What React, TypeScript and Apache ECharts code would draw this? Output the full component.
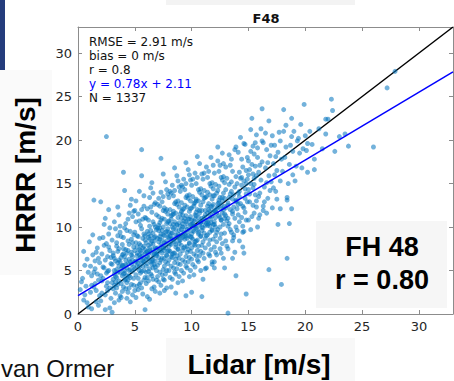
import { useEffect, useRef } from "react";
import * as echarts from "echarts";

const axisMin = 0;
const axisMax = 33;
const tickStep = 5;

const titleText = "F48";
const xAxisTitle = "Lidar [m/s]";
const yAxisTitle = "HRRR [m/s]";
const statsLines = ["RMSE = 2.91 m/s", "bias = 0 m/s", "r = 0.8", "y = 0.78x + 2.11", "N = 1337"];
const statsColors = ["#111111", "#111111", "#111111", "#0000ff", "#111111"];
const boxLines = ["FH 48", "r = 0.80"];
const footerText = "van Ormer";

const identityLine = [[0, 0], [33, 33]];
const fitLine = [[0, 2.11], [33, 27.85]];

// Lidar (x) vs HRRR (y) wind speeds
const pointsLow: number[][] = [
  [0.2,2.8],[0.4,4.1],[0.5,1.6],[0.6,5.6],[0.7,3.2],[0.8,6.3],[0.9,0.8],[0.3,3.7],[0.6,2.2],[0.9,4.8],[0.5,7.2],[0.8,1.3],
  [1.1,2.5],[1.2,4.4],[1.3,6.8],[1.4,3.1],[1.5,5.2],[1.6,1.4],[1.7,7.6],[1.8,3.9],[1.9,5.9],[1.0,8.3],[1.2,0.6],[1.4,4.8],[1.6,2.7],[1.8,6.4],[1.3,9.1],[1.5,3.5],[1.7,4.6],[1.9,2.1],[1.1,5.5],[1.4,13.1],[1.6,7.1],[1.8,1.0],[1.2,3.3],[1.5,6.1],[1.9,8.7],
  [2.0,12.9],[2.5,20.4],[2.7,12.0],[2.1,3.8],[2.2,5.4],[2.3,7.9],[2.4,2.2],[2.5,4.7],[2.6,6.6],[2.7,9.2],[2.8,3.0],[2.9,5.8],[2.0,1.5],[2.1,6.9],[2.2,4.1],[2.3,10.3],[2.4,0.5],[2.5,8.1],[2.6,3.6],[2.7,5.0],[2.8,7.3],[2.9,1.8],[2.0,4.4],[2.2,8.8],[2.4,6.2],[2.6,2.7],[2.8,9.9],[2.3,5.3],[2.5,3.2],[2.7,7.7],[2.9,6.5],[2.1,2.4],[2.6,4.9],[2.8,0.7],[2.4,11.0],
  [3.0,0.2],[3.1,2.9],[3.2,4.6],[3.3,6.1],[3.4,7.8],[3.5,3.4],[3.6,5.5],[3.7,9.4],[3.8,1.9],[3.9,6.8],[3.0,8.5],[3.1,4.0],[3.2,10.6],[3.3,2.4],[3.4,5.1],[3.5,7.2],[3.6,3.8],[3.7,6.0],[3.8,8.9],[3.9,4.4],[3.0,5.7],[3.1,7.0],[3.2,1.3],[3.3,9.8],[3.4,3.0],[3.5,5.9],[3.6,11.4],[3.7,4.8],[3.8,6.5],[3.9,2.6],[3.0,3.6],[3.2,6.4],[3.4,8.2],[3.6,7.5],[3.8,5.2],[3.3,4.3],[3.5,9.0],[3.7,2.1],[3.9,8.0],[3.1,6.7],[3.5,12.3],[3.7,10.1],[3.2,3.3],[3.6,1.6],[3.9,5.6],
];

const pointsMid: number[][] = [
  [4.0,16.3],[4.0,3.1],[4.1,5.0],[4.2,7.4],[4.3,9.6],[4.4,2.5],[4.5,6.3],[4.6,4.2],[4.7,8.6],[4.8,11.2],[4.9,5.4],[4.0,6.9],[4.1,3.9],[4.2,10.4],[4.3,1.8],[4.4,5.8],[4.5,8.0],[4.6,12.5],[4.7,3.4],[4.8,6.6],[4.9,9.1],[4.0,8.8],[4.1,4.7],[4.2,2.9],[4.3,7.0],[4.4,10.9],[4.5,4.4],[4.6,6.0],[4.7,13.2],[4.8,2.2],[4.9,7.7],[4.1,9.9],[4.3,5.3],[4.5,3.0],[4.7,5.7],[4.9,11.8],[4.2,6.2],[4.4,8.4],[4.6,1.4],[4.8,4.9],[4.0,5.6],[4.2,4.0],[4.4,7.3],[4.6,9.5],[4.8,8.2],[4.3,3.6],[4.5,11.6],[4.7,7.1],[4.9,3.3],[4.1,14.2],
  [5.6,18.9],[5.6,15.9],[5.9,0.5],[5.0,2.7],[5.1,4.5],[5.2,6.7],[5.3,8.9],[5.4,10.7],[5.5,3.6],[5.6,5.9],[5.7,7.6],[5.8,12.4],[5.9,4.2],[5.0,9.4],[5.1,6.1],[5.2,3.2],[5.3,11.5],[5.4,5.0],[5.5,7.9],[5.6,9.8],[5.7,2.3],[5.8,6.4],[5.9,8.5],[5.0,5.2],[5.1,13.0],[5.2,7.7],[5.3,4.1],[5.4,6.8],[5.5,10.2],[5.6,3.0],[5.7,5.5],[5.8,9.2],[5.9,11.1],[5.0,7.3],[5.1,1.9],[5.2,9.0],[5.3,6.2],[5.4,8.1],[5.5,4.7],[5.6,12.0],[5.7,8.7],[5.8,3.9],[5.9,6.9],[5.1,10.6],[5.3,2.8],[5.5,6.5],[5.7,10.9],[5.9,7.4],[5.2,5.6],[5.4,14.1],[5.6,7.0],[5.8,5.0],[5.0,11.9],[5.4,3.4],[5.8,13.6],
  [6.0,3.5],[6.1,5.8],[6.2,7.9],[6.3,10.1],[6.4,12.3],[6.5,4.4],[6.6,6.6],[6.7,8.8],[6.8,2.6],[6.9,9.7],[6.0,11.0],[6.1,7.2],[6.2,4.9],[6.3,13.4],[6.4,6.0],[6.5,8.4],[6.6,10.6],[6.7,3.1],[6.8,5.4],[6.9,7.5],[6.0,8.2],[6.1,2.0],[6.2,10.8],[6.3,5.2],[6.4,9.0],[6.5,11.7],[6.6,4.0],[6.7,6.9],[6.8,12.8],[6.9,5.0],[6.0,6.3],[6.1,9.5],[6.2,3.8],[6.3,7.6],[6.4,14.5],[6.5,6.1],[6.6,8.0],[6.7,10.3],[6.8,7.0],[6.9,3.9],[6.1,12.1],[6.3,8.6],[6.5,2.9],[6.7,5.7],[6.9,11.4],[6.2,6.4],[6.4,4.6],[6.6,9.3],[6.8,8.9],[6.0,4.8],[6.5,15.1],[6.7,12.6],[6.2,9.2],[6.4,7.1],[6.6,5.3],[6.8,10.0],[6.9,6.7],[6.1,4.2],[6.3,1.7],[6.6,13.9],
  [7.3,17.9],[7.0,4.3],[7.1,6.5],[7.2,8.6],[7.3,10.8],[7.4,12.9],[7.5,5.1],[7.6,7.3],[7.7,9.4],[7.8,3.0],[7.9,11.5],[7.0,9.9],[7.1,3.7],[7.2,5.9],[7.3,14.0],[7.4,7.8],[7.5,10.0],[7.6,12.2],[7.7,4.6],[7.8,6.8],[7.9,8.9],[7.0,7.0],[7.1,11.2],[7.2,2.4],[7.3,6.2],[7.4,9.6],[7.5,13.5],[7.6,5.5],[7.7,8.1],[7.8,10.4],[7.9,5.8],[7.0,12.6],[7.1,8.3],[7.2,4.8],[7.3,3.3],[7.4,11.0],[7.5,7.6],[7.6,9.0],[7.7,15.2],[7.8,12.0],[7.9,7.2],[7.0,5.6],[7.2,10.5],[7.4,6.4],[7.6,3.9],[7.8,8.4],[7.1,13.3],[7.3,8.0],[7.5,4.0],[7.7,11.8],[7.9,9.8],[7.2,7.4],[7.4,4.5],[7.6,10.9],[7.8,5.0],[7.0,8.7],[7.5,16.1],[7.9,13.8],[7.3,9.2],[7.7,6.0],[7.1,9.6],[7.5,11.9],[7.8,14.3],[7.2,12.4],[7.6,2.7],
];

const pointsHigh: number[][] = [
  [8.6,2.4],[8.0,5.0],[8.1,7.2],[8.2,9.3],[8.3,11.4],[8.4,13.6],[8.5,5.9],[8.6,8.0],[8.7,10.2],[8.8,3.6],[8.9,12.3],[8.0,10.7],[8.1,4.2],[8.2,6.6],[8.3,14.8],[8.4,8.5],[8.5,10.6],[8.6,12.9],[8.7,5.2],[8.8,7.5],[8.9,9.6],[8.0,7.8],[8.1,12.0],[8.2,3.1],[8.3,6.9],[8.4,10.3],[8.5,14.2],[8.6,6.3],[8.7,8.8],[8.8,11.1],[8.9,6.4],[8.0,13.4],[8.1,9.0],[8.2,5.5],[8.3,4.0],[8.4,11.8],[8.5,8.3],[8.6,9.7],[8.7,15.9],[8.8,13.0],[8.9,8.1],[8.0,6.2],[8.2,11.3],[8.4,7.0],[8.6,4.6],[8.8,9.2],[8.1,14.1],[8.3,8.7],[8.5,4.8],[8.7,12.6],[8.9,10.5],[8.2,8.0],[8.4,5.3],[8.6,11.6],[8.8,5.8],[8.0,9.4],[8.5,16.8],[8.9,14.6],[8.3,10.0],[8.7,6.7],[8.1,10.4],[8.5,12.7],[8.8,15.3],[8.2,13.9],[8.9,4.3],
  [9.5,2.1],[9.0,5.7],[9.1,7.9],[9.2,10.0],[9.3,12.1],[9.4,14.3],[9.5,6.6],[9.6,8.7],[9.7,10.9],[9.8,4.3],[9.9,13.0],[9.0,11.5],[9.1,5.0],[9.2,7.3],[9.3,15.5],[9.4,9.2],[9.5,11.3],[9.6,13.6],[9.7,6.0],[9.8,8.2],[9.9,10.3],[9.0,8.5],[9.1,12.8],[9.2,3.8],[9.3,7.6],[9.4,11.0],[9.5,15.0],[9.6,7.1],[9.7,9.5],[9.8,11.8],[9.9,7.2],[9.0,14.1],[9.1,9.7],[9.2,6.2],[9.3,4.7],[9.4,12.5],[9.5,9.0],[9.6,10.4],[9.7,16.6],[9.8,13.7],[9.9,8.9],[9.0,6.9],[9.2,12.0],[9.4,7.7],[9.6,5.3],[9.8,9.9],[9.1,14.8],[9.3,9.4],[9.5,5.5],[9.7,13.3],[9.9,11.2],[9.2,8.8],[9.4,6.0],[9.6,12.3],[9.8,6.5],[9.0,10.1],[9.5,17.4],[9.9,15.4],[9.3,10.7],[9.7,7.4],[9.1,11.0],[9.5,13.4],[9.8,16.0],[9.2,14.6],[9.9,5.0],
  [10.0,2.5],[10.9,2.0],[10.0,6.3],[10.1,8.6],[10.2,10.7],[10.3,12.8],[10.4,15.0],[10.5,7.3],[10.6,9.4],[10.7,11.6],[10.8,5.0],[10.9,13.7],[10.0,12.2],[10.1,5.7],[10.2,8.0],[10.3,16.2],[10.4,9.9],[10.5,12.0],[10.6,14.3],[10.7,6.7],[10.8,8.9],[10.9,11.0],[10.0,9.2],[10.1,13.5],[10.2,4.5],[10.3,8.3],[10.4,11.7],[10.5,15.7],[10.6,7.8],[10.7,10.2],[10.8,12.5],[10.9,7.9],[10.0,14.8],[10.1,10.4],[10.2,6.9],[10.3,5.4],[10.4,13.2],[10.5,9.7],[10.6,11.1],[10.7,17.3],[10.8,14.4],[10.9,9.6],[10.0,7.6],[10.2,12.7],[10.4,8.4],[10.6,6.0],[10.8,10.6],[10.1,15.5],[10.3,10.1],[10.5,6.2],[10.7,14.0],[10.9,11.9],[10.2,9.5],[10.4,6.7],[10.6,13.0],[10.8,7.2],[10.0,10.8],[10.5,18.1],[10.9,16.1],[10.3,11.4],
  [11.0,4.0],[11.3,5.3],[11.8,6.0],[11.0,7.0],[11.1,9.3],[11.2,11.4],[11.3,13.5],[11.4,15.7],[11.5,8.0],[11.6,10.1],[11.7,12.3],[11.8,5.7],[11.9,14.4],[11.0,12.9],[11.1,6.4],[11.2,8.7],[11.3,16.9],[11.4,10.6],[11.5,12.7],[11.6,15.0],[11.7,7.4],[11.8,9.6],[11.9,11.7],[11.0,9.9],[11.1,14.2],[11.2,5.2],[11.3,9.0],[11.4,12.4],[11.5,16.4],[11.6,8.5],[11.7,10.9],[11.8,13.2],[11.9,8.6],[11.0,15.5],[11.1,11.1],[11.2,7.6],[11.4,14.0],[11.5,10.4],[11.6,11.8],[11.7,18.0],[11.8,15.1],[11.9,10.3],[11.0,8.3],[11.2,13.4],[11.4,9.1],[11.6,6.7],[11.8,11.3],[11.1,16.2],[11.3,10.8],[11.5,6.9],[11.7,14.7],[11.9,12.6],[11.2,10.2],[11.6,13.7],[11.9,17.1],
];

const pointsTail: number[][] = [
  [12.0,5.3],[12.0,6.0],[12.9,5.3],[12.0,7.7],[12.1,10.0],[12.2,12.1],[12.3,14.2],[12.4,16.4],[12.5,8.7],[12.6,10.8],[12.7,13.0],[12.8,6.4],[12.9,15.1],[12.0,13.6],[12.1,7.1],[12.2,9.4],[12.3,17.6],[12.4,11.3],[12.5,13.4],[12.6,15.7],[12.7,8.1],[12.8,10.3],[12.9,12.4],[12.0,10.6],[12.1,14.9],[12.2,6.8],[12.3,9.7],[12.4,13.1],[12.5,17.1],[12.6,9.2],[12.7,11.6],[12.8,13.9],[12.9,9.3],[12.0,16.2],[12.1,11.8],[12.2,8.3],[12.4,14.7],[12.5,11.1],[12.6,12.5],[12.7,18.5],[12.8,15.8],[12.9,11.0],[12.1,9.0],[12.3,12.7],[12.5,7.5],[12.7,15.4],[12.9,13.3],[12.3,19.2],[12.6,7.0],[12.8,17.3],
  [13.2,0.1],[13.9,4.4],[13.6,6.4],[13.6,8.4],[13.7,9.1],[13.0,8.4],[13.1,10.7],[13.2,12.8],[13.3,14.9],[13.4,17.1],[13.5,9.4],[13.6,11.5],[13.7,13.7],[13.8,7.1],[13.9,15.8],[13.0,14.3],[13.1,7.8],[13.2,10.1],[13.3,18.3],[13.4,12.0],[13.5,14.1],[13.6,16.4],[13.7,8.8],[13.8,11.0],[13.9,13.1],[13.0,11.3],[13.1,15.6],[13.2,7.5],[13.3,10.4],[13.4,13.8],[13.5,17.8],[13.7,12.3],[13.8,14.6],[13.9,10.0],[13.0,16.9],[13.2,12.5],[13.4,9.7],[13.6,13.2],[13.8,18.9],[13.9,19.2],
  [14.6,19.6],[14.8,2.3],[14.6,7.0],[14.5,7.7],[14.2,8.4],[14.5,9.4],[14.8,10.8],[14.0,9.6],[14.1,11.4],[14.2,13.5],[14.3,15.6],[14.4,17.8],[14.5,10.1],[14.6,12.2],[14.7,14.4],[14.8,16.5],[14.9,12.9],[14.0,15.0],[14.1,18.6],[14.2,10.6],[14.3,12.7],[14.4,14.8],[14.5,16.9],[14.6,9.5],[14.7,11.7],[14.8,13.8],[14.9,18.0],[14.0,12.1],[14.2,16.3],[14.4,11.1],[14.6,15.3],[14.7,19.5],[14.9,15.5],[14.3,20.3],[14.1,13.9],
  [15.3,22.5],[15.6,19.7],[15.8,19.1],[15.8,10.0],[15.2,9.7],[15.4,12.5],[15.0,10.8],[15.1,12.9],[15.2,15.0],[15.3,17.2],[15.4,19.3],[15.5,11.6],[15.6,13.7],[15.7,15.9],[15.8,18.0],[15.9,13.5],[15.0,14.3],[15.1,16.6],[15.2,18.7],[15.3,11.2],[15.5,14.9],[15.6,17.0],[15.7,12.3],[15.9,16.3],[15.0,17.6],[15.4,16.1],[15.7,20.6],[15.9,11.0],[15.2,21.2],[15.5,18.4],
  [16.2,23.6],[16.8,22.2],[16.8,5.1],[16.3,12.4],[16.3,11.9],[16.0,11.4],[16.0,13.9],[16.1,15.4],[16.2,17.5],[16.3,19.7],[16.4,14.6],[16.5,16.8],[16.6,18.9],[16.7,13.3],[16.8,15.9],[16.9,18.2],[16.0,17.1],[16.2,19.9],[16.4,12.9],[16.5,20.8],[16.6,15.1],[16.7,17.4],[16.9,14.2],[16.1,21.3],[16.6,11.6],
  [17.0,19.4],[17.3,19.4],[17.1,12.2],[17.8,12.1],[17.6,10.3],[17.9,3.4],[17.0,15.2],[17.2,17.3],[17.4,14.1],[17.5,16.5],[17.6,18.6],[17.8,15.3],[17.9,17.8],[17.1,20.5],[17.5,13.2],[17.7,20.9],[17.3,16.0],[17.8,19.9],[17.4,18.1],[17.2,14.5],
  [18.1,23.5],[18.8,22.5],[18.1,21.0],[18.8,20.4],[18.3,19.2],[18.4,6.4],[18.6,10.4],[18.8,12.1],[18.4,13.1],[18.4,13.4],[18.0,16.4],[18.2,18.0],[18.5,15.0],[18.6,17.2],[18.9,18.7],[18.3,21.7],[18.7,19.4],[18.9,16.0],
  [19.0,21.0],[19.4,20.2],[19.6,21.8],[19.9,24.1],[19.2,17.0],[19.5,18.5],[19.8,19.0],[19.1,15.3],[19.7,16.8],[19.3,19.9],
  [20.2,19.6],[20.6,19.5],[20.1,18.8],[20.2,16.3],[20.8,16.6],[20.8,17.8],[20.4,21.0],[20.0,20.5],
  [21.2,21.3],[21.8,20.7],[21.8,22.4],[21.5,19.0],
  [22.0,22.4],[22.3,24.7],[22.4,23.4],[22.6,18.7],[23.0,20.4],[23.5,20.7],[23.8,19.3],
  [26.0,19.2],[27.2,26.0],[27.9,27.9],
];

// extra points in the densest part of the cloud
const pointsCore: number[][] = [
  [3.2,5.0],[3.4,4.2],[3.6,6.2],[3.8,3.5],[4.0,4.6],[4.2,5.7],[4.4,3.9],[4.6,5.1],[4.8,6.1],[4.1,6.6],[4.5,5.0],[4.9,4.1],[3.5,4.8],[3.9,5.5],[4.3,4.4],[4.7,6.8],[3.3,3.7],[4.0,7.5],
  [5.0,6.0],[5.2,7.0],[5.4,5.4],[5.6,6.6],[5.8,7.8],[6.0,5.5],[6.2,6.9],[6.4,8.1],[6.6,6.2],[6.8,7.6],[5.1,8.2],[5.3,5.8],[5.5,7.3],[5.7,6.1],[5.9,9.0],[6.1,6.6],[6.3,7.3],[6.5,5.7],[6.7,8.4],[6.9,6.9],[5.4,7.4],[5.8,6.0],[6.2,8.8],[6.6,7.4],[6.0,7.1],[5.6,4.9],[6.4,9.6],[6.8,6.1],
  [7.0,7.6],[7.2,8.9],[7.4,7.0],[7.6,8.2],[7.8,9.5],[8.0,7.3],[8.2,8.6],[8.4,9.8],[8.6,7.7],[8.8,8.9],[7.1,10.2],[7.3,7.3],[7.5,9.1],[7.7,7.6],[7.9,10.6],[8.1,8.1],[8.3,9.3],[8.5,7.0],[8.7,10.3],[8.9,8.4],[7.4,8.5],[7.8,6.7],[8.2,10.9],[8.6,9.1],[8.0,8.8],[7.6,6.4],[8.4,11.5],[8.8,7.4],[7.2,9.9],[8.3,6.5],
  [9.0,9.0],[9.2,10.4],[9.4,8.6],[9.6,9.7],[9.8,10.9],[10.0,8.8],[10.2,10.1],[10.4,11.3],[10.6,9.2],[10.8,10.5],[9.1,11.8],[9.3,8.9],[9.5,10.6],[9.7,9.0],[9.9,12.1],[10.1,9.6],[10.3,10.9],[10.5,8.5],[10.7,11.9],[10.9,10.0],[9.4,10.0],[9.8,8.1],[10.2,12.4],[10.6,10.6],[10.0,10.3],[9.6,7.8],[10.4,13.0],[10.8,9.0],[9.2,11.4],[10.3,7.9],
  [11.0,10.6],[11.2,11.9],[11.4,10.2],[11.6,11.2],[11.8,12.4],[12.0,10.3],[12.2,11.6],[12.4,12.8],[12.6,10.8],[12.8,12.0],[11.1,13.3],[11.3,10.4],[11.5,12.0],[11.7,10.5],[11.9,13.6],[12.1,11.1],[12.3,12.3],[12.5,10.0],[12.7,13.4],[12.9,11.5],[11.4,11.6],[11.8,9.7],[12.2,13.9],[12.6,12.1],[12.0,11.9],[11.6,9.4],
  [13.0,12.2],[13.3,13.4],[13.6,11.8],[13.9,12.9],[14.2,14.1],[14.5,12.4],[14.8,15.0],[15.1,13.8],[15.4,14.5],[15.7,13.0],[13.5,15.2],[14.0,13.0],[14.4,15.7],[15.0,16.0],[15.5,15.6],[13.2,11.0],[14.1,12.6],[14.7,13.3],
];

const allPoints = [...pointsLow, ...pointsMid, ...pointsHigh, ...pointsTail, ...pointsCore];

const AXIS_GRAY = "#8c8c8c";
const LABEL_COLOR = "#262626";

function makeAxis(position: string, showLabels: boolean) {
  return {
    type: "value",
    position,
    min: axisMin,
    max: axisMax,
    interval: tickStep,
    axisLine: { show: true, onZero: false, lineStyle: { color: AXIS_GRAY, width: 1 } },
    axisTick: { show: true, inside: true, length: 4, lineStyle: { color: AXIS_GRAY } },
    axisLabel: {
      show: showLabels,
      color: LABEL_COLOR,
      fontSize: 13,
      fontFamily: "DejaVu Sans",
      margin: 6,
      showMaxLabel: false,
    },
    splitLine: { show: false },
  };
}

export default function App() {
  const ref = useRef<HTMLDivElement>(null);
  useEffect(() => {
    const chart = echarts.init(ref.current!, null, { renderer: "svg" });
    const bigFont = '"Liberation Sans", Arial, sans-serif';
    const graphics: any[] = [
      { type: "rect", shape: { x: 0, y: 0, width: 5, height: 70 }, style: { fill: "#243c7c" }, z: 0 },
      { type: "rect", shape: { x: 166, y: 0, width: 189, height: 5 }, style: { fill: "#f3f3f3" }, z: 0 },
      { type: "rect", shape: { x: 0, y: 70, width: 52, height: 205 }, style: { fill: "#fafafa" }, z: 0 },
      { type: "rect", shape: { x: 166, y: 338, width: 189, height: 43 }, style: { fill: "#f8f8f8" }, z: 0 },
      { type: "rect", shape: { x: 316, y: 221, width: 131, height: 87 }, style: { fill: "#f6f6f6" }, z: 10 },
      {
        type: "text", x: 266, y: 18, z: 20,
        style: { text: titleText, fill: "#111", font: 'bold 13px "DejaVu Sans"', align: "center", verticalAlign: "middle" },
      },
      {
        type: "text", x: 259, y: 364, z: 20,
        style: { text: xAxisTitle, fill: "#000", font: "bold 28px " + bigFont, align: "center", verticalAlign: "middle" },
      },
      {
        type: "text", x: 25, y: 175, rotation: Math.PI / 2, z: 20,
        style: { text: yAxisTitle, fill: "#000", font: "bold 28px " + bigFont, align: "center", verticalAlign: "middle" },
      },
      {
        type: "text", x: 1, y: 368, z: 20,
        style: { text: footerText, fill: "#111", font: "24px " + bigFont, align: "left", verticalAlign: "middle" },
      },
      ...boxLines.map((t, i) => ({
        type: "text", x: 382, y: 247 + i * 33, z: 20,
        style: { text: t, fill: "#000", font: "bold 27px " + bigFont, align: "center", verticalAlign: "middle" },
      })),
      ...statsLines.map((t, i) => ({
        type: "text", x: 89, y: 41.5 + i * 14, z: 20,
        style: { text: t, fill: statsColors[i], font: '12px "DejaVu Sans"', align: "left", verticalAlign: "middle" },
      })),
    ];

    chart.setOption({
      animation: false,
      backgroundColor: "#ffffff",
      grid: { left: 78, top: 27, width: 375, height: 287, show: false },
      xAxis: [makeAxis("bottom", true), makeAxis("top", false)],
      yAxis: [makeAxis("left", true), makeAxis("right", false)],
      series: [
        {
          type: "line",
          data: identityLine,
          symbol: "none",
          silent: true,
          lineStyle: { color: "#000000", width: 1.5 },
          z: 2,
        },
        {
          type: "scatter",
          data: allPoints,
          symbol: "circle",
          symbolSize: 5,
          silent: true,
          itemStyle: { color: "#0072BD", opacity: 0.55 },
          z: 3,
        },
        {
          type: "line",
          data: fitLine,
          symbol: "none",
          silent: true,
          lineStyle: { color: "#0000ff", width: 1.5 },
          z: 4,
        },
      ],
      graphic: graphics,
    });
    return () => chart.dispose();
  }, []);
  return (
    <div
      ref={ref}
      style={{ position: "absolute", left: 0, top: 0, width: 454, height: 381, background: "#fff" }}
    />
  );
}
